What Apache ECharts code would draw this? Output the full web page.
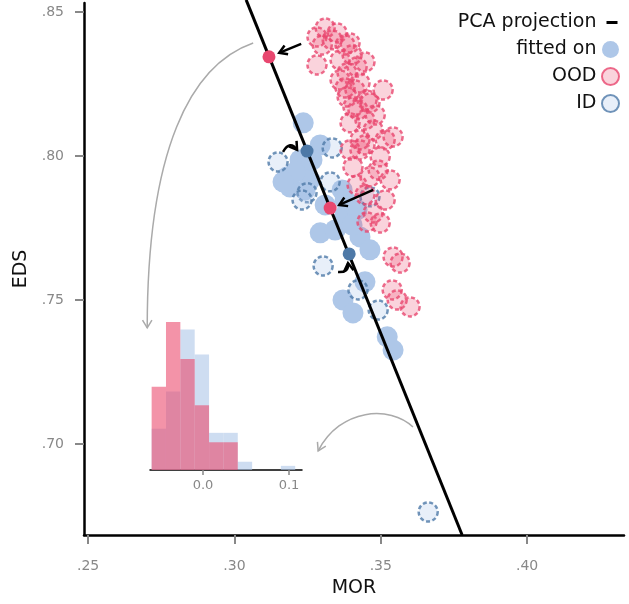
<!DOCTYPE html>
<html>
<head>
<meta charset="utf-8">
<script src="https://cdn.jsdelivr.net/npm/echarts@6/dist/echarts.min.js"></script>
<style>
  html, body { margin: 0; padding: 0; background: #fff; }
  #chart { width: 629px; height: 604px; }
</style>
</head>
<body>
<div id="chart"></div>
<script>
// axis ticks
var xTicks = [0.25, 0.30, 0.35, 0.40];
var yTicks = [0.70, 0.75, 0.80, 0.85];
var histTicks = [0.0, 0.1];

// scatter points [MOR, EDS]
var fittedOn = [
  [0.3235, 0.8115], [0.3293, 0.8038], [0.3224, 0.7951], [0.3180, 0.7927],
  [0.3190, 0.7892], [0.3258, 0.7917], [0.3224, 0.7986], [0.3368, 0.7882],
  [0.3310, 0.7830], [0.3378, 0.7795], [0.3419, 0.7813], [0.3293, 0.7733],
  [0.3344, 0.7743], [0.3429, 0.7719], [0.3463, 0.7674], [0.3446, 0.7563],
  [0.3371, 0.7500], [0.3405, 0.7455], [0.3522, 0.7372], [0.3542, 0.7326],
  [0.3207, 0.7944], [0.3241, 0.7882], [0.3166, 0.7910], [0.3402, 0.7760],
  [0.3378, 0.7847], [0.3265, 0.7986]
];
var idPoints = [
  [0.3149, 0.7979], [0.3334, 0.8028], [0.3248, 0.7872], [0.3327, 0.7910],
  [0.3231, 0.7847], [0.3463, 0.7858], [0.3303, 0.7618], [0.3422, 0.7535],
  [0.3491, 0.7465], [0.3662, 0.6764]
];
var oodPoints = [
  [0.3310, 0.8444], [0.3282, 0.8413], [0.3351, 0.8427], [0.3395, 0.8392],
  [0.3378, 0.8385], [0.3282, 0.8316], [0.3361, 0.8333], [0.3385, 0.8288],
  [0.3419, 0.8309], [0.3361, 0.8264], [0.3429, 0.8253], [0.3508, 0.8229],
  [0.3412, 0.8229], [0.3385, 0.8205], [0.3453, 0.8194], [0.3405, 0.8170],
  [0.3463, 0.8184], [0.3395, 0.8115], [0.3446, 0.8125], [0.3474, 0.8090],
  [0.3542, 0.8066], [0.3429, 0.8056], [0.3429, 0.8021], [0.3498, 0.7997],
  [0.3405, 0.7962], [0.3463, 0.7927], [0.3532, 0.7917], [0.3446, 0.7865],
  [0.3474, 0.7802], [0.3498, 0.7767], [0.3542, 0.7649], [0.3566, 0.7628],
  [0.3539, 0.7535], [0.3556, 0.7500], [0.3600, 0.7476],
  [0.3402, 0.8351], [0.3446, 0.8326], [0.3378, 0.8236], [0.3422, 0.8160],
  [0.3481, 0.8142], [0.3515, 0.8056], [0.3446, 0.8038], [0.3395, 0.8021],
  [0.3491, 0.7951], [0.3419, 0.7899], [0.3515, 0.7847], [0.3453, 0.7771],
  [0.3334, 0.8403], [0.3300, 0.8385]
];

// PCA projection line and projected points
var pcaLine = [[0.3040, 0.8542], [0.3778, 0.6684]];
var projOOD = [[0.3118, 0.8344], [0.3327, 0.7819]];
var projID = [[0.3248, 0.8017], [0.3392, 0.7660]];

// annotation arrows (data coords: start, [controls], tip)
var blackArrows = [
  [[0.3228, 0.8389], [0.3153, 0.8358]],
  [[0.3474, 0.7882], [0.3358, 0.7830]],
  [[0.3166, 0.8014], [0.3190, 0.8056], [0.3214, 0.8021]],
  [[0.3354, 0.7597], [0.3392, 0.7594], [0.3388, 0.7628]]
];
var greyArrows = [
  [[0.3064, 0.8392], [0.2849, 0.8316], [0.2702, 0.8021], [0.2702, 0.7403]],
  [[0.3610, 0.7059], [0.3532, 0.7135], [0.3361, 0.7125], [0.3286, 0.6976]]
];

// inset histogram of projections
var binStart = -0.0597;
var binWidth = 0.01669;
var idCounts = [10, 19, 34, 28, 9, 9, 2, 0, 0, 1];
var oodCounts = [9, 16, 12, 7, 3, 3, 0, 0, 0, 0];

function histData(counts) {
  var total = counts.reduce(function (a, b) { return a + b; }, 0);
  return counts.map(function (c, i) {
    return [binStart + i * binWidth, binStart + (i + 1) * binWidth, c / total];
  });
}

function histItem(color) {
  return function (params, api) {
    var p0 = api.coord([api.value(0), api.value(2)]);
    var p1 = api.coord([api.value(1), 0]);
    return {
      type: 'rect',
      shape: { x: p0[0], y: p0[1], width: p1[0] - p0[0], height: p1[1] - p0[1] },
      style: { fill: color }
    };
  };
}

function arrowItem(list, color, width, headLen) {
  return function (params, api) {
    var pts = list[api.value(2)].map(function (p) { return api.coord(p); });
    var n = pts.length;
    var tip = pts[n - 1], from = pts[n - 2];
    var body;
    if (n === 2) {
      body = { type: 'line', shape: { x1: pts[0][0], y1: pts[0][1], x2: tip[0], y2: tip[1] } };
    } else {
      var shape = { x1: pts[0][0], y1: pts[0][1], x2: tip[0], y2: tip[1], cpx1: pts[1][0], cpy1: pts[1][1] };
      if (n === 4) { shape.cpx2 = pts[2][0]; shape.cpy2 = pts[2][1]; }
      body = { type: 'bezierCurve', shape: shape };
    }
    body.style = { stroke: color, lineWidth: width, fill: null };
    var ang = Math.atan2(tip[1] - from[1], tip[0] - from[0]) + Math.PI;
    var a = [tip[0] + headLen * Math.cos(ang - 0.55), tip[1] + headLen * Math.sin(ang - 0.55)];
    var b = [tip[0] + headLen * Math.cos(ang + 0.55), tip[1] + headLen * Math.sin(ang + 0.55)];
    return {
      type: 'group',
      children: [body, {
        type: 'polyline',
        shape: { points: [a, tip, b] },
        style: { stroke: color, lineWidth: width, fill: null }
      }]
    };
  };
}

var fmt = function (v) { return v.toFixed(2).replace(/^0/, ''); };
var font = 'DejaVu Sans';

var chart = echarts.init(document.getElementById('chart'));
chart.setOption({
  animation: false,
  textStyle: { fontFamily: font },
  legend: {
    orient: 'vertical',
    align: 'right',
    right: 4,
    top: 8,
    itemWidth: 18,
    itemHeight: 17,
    itemGap: 8,
    textStyle: { fontSize: 19, color: '#111', fontFamily: font },
    data: [
      { name: 'PCA projection', icon: 'path://M0,0M18,17M5,7h11v3h-11z', itemStyle: { color: '#000' } },
      'fitted on', 'OOD', 'ID'
    ]
  },
  grid: [
    { left: 84, right: 5, top: 3, bottom: 69 },
    { left: 150, right: 327, top: 322, bottom: 134 }
  ],
  xAxis: [{
    type: 'value', min: 0.2486, max: 0.4331,
    name: 'MOR', nameLocation: 'middle', nameGap: 44,
    nameTextStyle: { fontSize: 19, color: '#111' },
    splitLine: { show: false },
    axisLine: { onZero: false, lineStyle: { color: '#000', width: 2.5 } },
    axisTick: { customValues: xTicks, length: 9, lineStyle: { color: '#888', width: 2 } },
    axisLabel: { customValues: xTicks, formatter: fmt, color: '#888', fontSize: 14, margin: 24 }
  }, {
    type: 'value', gridIndex: 1, min: -0.0616, max: 0.1151,
    splitLine: { show: false },
    axisLine: { onZero: false, lineStyle: { color: '#000', width: 1.5 } },
    axisTick: { customValues: histTicks, length: 5, lineStyle: { color: '#888', width: 1.5 } },
    axisLabel: { customValues: histTicks, formatter: function (v) { return v.toFixed(1); }, color: '#888', fontSize: 13, margin: 9 }
  }],
  yAxis: [{
    type: 'value', min: 0.6684, max: 0.8531,
    name: 'EDS', nameLocation: 'middle', nameGap: 50,
    nameTextStyle: { fontSize: 19, color: '#111' },
    splitLine: { show: false },
    axisLine: { show: true, onZero: false, lineStyle: { color: '#000', width: 2.5 } },
    axisTick: { show: true, customValues: yTicks, length: 9, lineStyle: { color: '#888', width: 2 } },
    axisLabel: { customValues: yTicks, formatter: fmt, color: '#888', fontSize: 14, margin: 20 }
  }, {
    type: 'value', gridIndex: 1, min: 0, max: 0.32, show: false
  }],
  series: [
    {
      name: 'fitted on', type: 'scatter', data: fittedOn, symbolSize: 21,
      itemStyle: { color: '#aec7e8', opacity: 1 }
    },
    {
      name: 'ID', type: 'scatter', data: idPoints, symbolSize: 19,
      itemStyle: { color: 'rgba(174,199,232,0.35)', borderColor: '#4e79a7', borderWidth: 2.5, borderType: [4, 2.5] }
    },
    {
      name: 'OOD', type: 'scatter', data: oodPoints, symbolSize: 19,
      itemStyle: { color: 'rgba(235,75,110,0.3)', borderColor: '#e8476f', borderWidth: 2.5, borderType: [4, 2.5] }
    },
    {
      name: 'PCA projection', type: 'line', data: pcaLine, symbol: 'none', clip: false,
      lineStyle: { color: '#000', width: 3 }, itemStyle: { color: '#000' }, z: 3
    },
    {
      type: 'scatter', data: projOOD, symbolSize: 13, z: 4,
      itemStyle: { color: '#e8476f', opacity: 1 }
    },
    {
      type: 'scatter', data: projID, symbolSize: 13, z: 4,
      itemStyle: { color: '#4e79a7', opacity: 1 }
    },
    {
      type: 'custom', clip: false, silent: true, z: 5,
      renderItem: arrowItem(blackArrows, '#000', 2.5, 9),
      encode: { x: 0, y: 1 },
      data: blackArrows.map(function (a, i) { return [a[0][0], a[0][1], i]; })
    },
    {
      type: 'custom', clip: false, silent: true, z: 5,
      renderItem: arrowItem(greyArrows, '#aaa', 1.5, 9),
      encode: { x: 0, y: 1 },
      data: greyArrows.map(function (a, i) { return [a[0][0], a[0][1], i]; })
    },
    {
      type: 'custom', xAxisIndex: 1, yAxisIndex: 1, silent: true,
      renderItem: histItem('rgba(174,199,232,0.6)'),
      encode: { x: [0, 1], y: 2 },
      data: histData(idCounts)
    },
    {
      type: 'custom', xAxisIndex: 1, yAxisIndex: 1, silent: true,
      renderItem: histItem('rgba(235,75,110,0.6)'),
      encode: { x: [0, 1], y: 2 },
      data: histData(oodCounts)
    }
  ]
});
</script>
</body>
</html>
